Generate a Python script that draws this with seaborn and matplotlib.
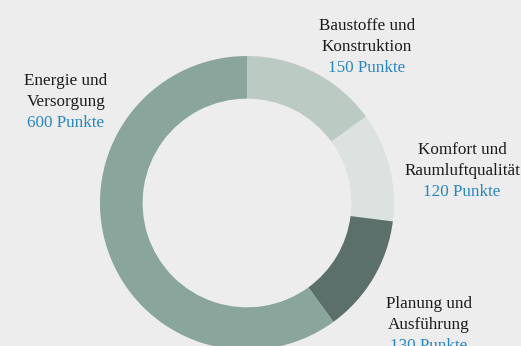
import matplotlib
matplotlib.use("Agg")
import matplotlib.pyplot as plt
import seaborn as sns

categories = ["Baustoffe und\nKonstruktion", "Komfort und\nRaumluftqualität",
              "Planung und\nAusführung", "Energie und\nVersorgung"]
points = [150, 120, 130, 600]
value_labels = [f"{p} Punkte" for p in points]

# layout (middle-line centres in data units, pie radius = 1)
label_pos = [(0.816, 1.062), (1.463, 0.218), (1.238, -0.829), (-1.231, 0.687)]
colors = ["#bccac4", "#dce2df", "#5c706b", "#8aa59c"]
bg = "#ededed"

sns.set_theme(style="white")
plt.rcParams["font.family"] = ["Liberation Serif", "DejaVu Serif"]

fig = plt.figure(figsize=(5.21, 3.46), dpi=100, facecolor=bg)
ax = fig.add_axes([0, 0, 1, 1], facecolor=bg)
ax.pie(points, colors=colors, startangle=90, counterclock=False, radius=1,
       wedgeprops=dict(width=0.29, linewidth=0, edgecolor="none"))
ax.set_xlim(-1.680, 1.864)
ax.set_ylim(-0.973, 1.381)
ax.set_aspect("auto")
ax.axis("off")

line = 0.143
for cat, val, (x, y) in zip(categories, value_labels, label_pos):
    l1, l2 = cat.split("\n")
    ax.text(x, y + line, l1, ha="center", va="center", fontsize=12.3,
            color="#1a1a1a")
    ax.text(x, y, l2, ha="center", va="center", fontsize=12.3,
            color="#1a1a1a")
    ax.text(x, y - line, val, ha="center", va="center", fontsize=12.3,
            color="#2a86c0")

fig.savefig("out.png", dpi=100, facecolor=bg)
